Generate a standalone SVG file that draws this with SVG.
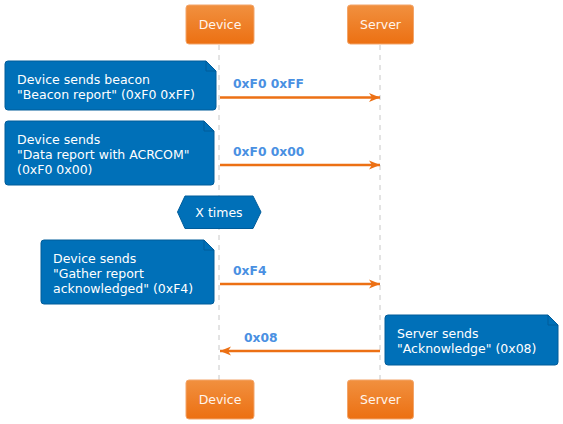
<svg xmlns="http://www.w3.org/2000/svg" width="563" height="424" viewBox="0 0 563 424">
<defs>
<linearGradient id="og" x1="0" y1="0" x2="0" y2="1">
<stop offset="0" stop-color="#F1903F"/>
<stop offset="1" stop-color="#EC7012"/>
</linearGradient>
<marker id="ah" markerUnits="userSpaceOnUse" markerWidth="14" markerHeight="12" refX="11" refY="6" orient="auto">
<path d="M0,1.5 L11,6 L0,10.5 L3,6 Z" fill="#EC7014"/>
</marker>
</defs>
<style>
.part{fill:url(#og);stroke:#F3A56A;stroke-width:1}
.ptxt{font-family:"DejaVu Sans",sans-serif;font-size:12.5px;fill:#FFF5EC;text-anchor:middle}
.life{stroke:#C8C8C8;stroke-width:1;stroke-dasharray:5,5}
.note{fill:#0070B8;stroke:#005C9A;stroke-width:1}
.fold{fill:none;stroke:#005C9A;stroke-width:1}
.ntxt{font-family:"DejaVu Sans",sans-serif;font-size:12.5px;fill:#FFFFFF}
.msg{stroke:#EC7014;stroke-width:2.5;fill:none;marker-end:url(#ah)}
.lbl{font-family:"DejaVu Sans",sans-serif;font-size:12.3px;font-weight:bold;fill:#4A90E2}
</style>
<g id="lifelines">
<line class="life" x1="219" y1="45" x2="219" y2="380"/>
<line class="life" x1="380" y1="45" x2="380" y2="380"/>
</g>
<g id="device-top"><rect class="part" x="186" y="5" width="68" height="39" rx="3"/><text class="ptxt" x="220" y="29">Device</text></g>
<g id="server-top"><rect class="part" x="347.5" y="5" width="66" height="39" rx="3"/><text class="ptxt" x="380.5" y="29">Server</text></g>
<g id="device-bottom"><rect class="part" x="186" y="380" width="68" height="39" rx="3"/><text class="ptxt" x="220" y="404">Device</text></g>
<g id="server-bottom"><rect class="part" x="347.5" y="380" width="66" height="39" rx="3"/><text class="ptxt" x="380.5" y="404">Server</text></g>
<g id="note1">
<path class="note" d="M8,61 H206 L216,71 V107 Q216,110 213,110 H8 Q5,110 5,107 V64 Q5,61 8,61 Z"/>
<path class="fold" d="M206,61 V71 H216"/>
<text class="ntxt" x="17" y="84">Device sends beacon</text>
<text class="ntxt" x="17" y="99">"Beacon report" (0xF0 0xFF)</text>
</g>
<g id="note2">
<path class="note" d="M8,121 H204 L214,131 V182 Q214,185 211,185 H8 Q5,185 5,182 V124 Q5,121 8,121 Z"/>
<path class="fold" d="M204,121 V131 H214"/>
<text class="ntxt" x="17" y="144">Device sends</text>
<text class="ntxt" x="17" y="159">"Data report with ACRCOM"</text>
<text class="ntxt" x="17" y="173.5">(0xF0 0x00)</text>
</g>
<g id="loop">
<path class="note" d="M185,196 H253 L261,212 L253,228.5 H185 L177.5,212 Z"/>
<text class="ntxt" x="219" y="217" text-anchor="middle">X times</text>
</g>
<g id="note3">
<path class="note" d="M44,240 H204 L214,250 V301 Q214,304 211,304 H44 Q41,304 41,301 V243 Q41,240 44,240 Z"/>
<path class="fold" d="M204,240 V250 H214"/>
<text class="ntxt" x="53" y="262.5">Device sends</text>
<text class="ntxt" x="53" y="277.5">"Gather report</text>
<text class="ntxt" x="53" y="292.5">acknowledged" (0xF4)</text>
</g>
<g id="note4">
<path class="note" d="M388,315 H548 L558,325 V362 Q558,365 555,365 H388 Q385,365 385,362 V318 Q385,315 388,315 Z"/>
<path class="fold" d="M548,315 V325 H558"/>
<text class="ntxt" x="397" y="338">Server sends</text>
<text class="ntxt" x="397" y="352.5">"Acknowledge" (0x08)</text>
</g>
<g id="connectors">
<line class="msg" x1="220" y1="97.5" x2="380" y2="97.5"/>
<text class="lbl" x="233" y="88">0xF0 0xFF</text>
<line class="msg" x1="220" y1="165" x2="380" y2="165"/>
<text class="lbl" x="233" y="155.5">0xF0 0x00</text>
<line class="msg" x1="220" y1="284" x2="380" y2="284"/>
<text class="lbl" x="233" y="274.5">0xF4</text>
<line class="msg" x1="380" y1="351" x2="220" y2="351"/>
<text class="lbl" x="244" y="341.5">0x08</text>
</g>
</svg>
